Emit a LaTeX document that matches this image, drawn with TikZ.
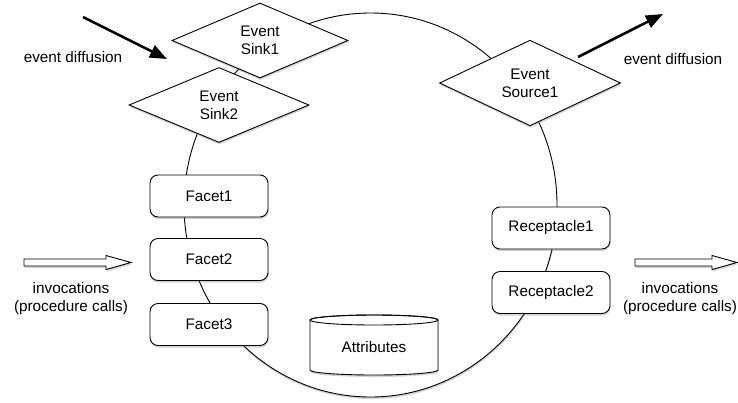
\documentclass[tikz,border=0pt]{standalone}
\usepackage{fontspec}
\setmainfont{Liberation Sans}
\usetikzlibrary{shapes.geometric,arrows.meta,shadows}
\begin{document}
\begin{tikzpicture}[x=1pt,y=-1pt,
  font=\fontsize{15.3}{18}\selectfont,
  shad/.style={drop shadow={shadow xshift=0.5pt,shadow yshift=-2pt,opacity=0.35}},
  evt/.style={diamond,draw,line width=0.9pt,fill=white,inner sep=0pt,align=center,shad},
  port/.style={rectangle,draw,line width=0.9pt,fill=white,rounded corners=8pt,minimum width=118pt,minimum height=42pt,inner sep=0pt,shad},
  hollow/.style={draw,line width=0.9pt,fill=white,shad},
  flow/.style={line width=2.6pt,-{Triangle[length=17pt,width=13pt]}},
  lbl/.style={align=center,inner sep=0pt}]
\useasboundingbox (0,0) rectangle (738,402);
% component body
\draw[line width=0.9pt,fill=white,shad] (370.5,205) ellipse[x radius=186.5,y radius=192];
% attributes cylinder
\draw[line width=0.9pt,fill=white,shad] (310,320) -- (310,370) arc[start angle=180,end angle=0,x radius=64,y radius=5] -- (438,320) arc[start angle=0,end angle=-180,x radius=64,y radius=5] -- cycle;
\draw[line width=0.9pt] (374,320) ellipse[x radius=64,y radius=5];
\node[lbl] (attr) at (374,347) {Attributes};
% event ports
\node[evt,minimum width=180pt,minimum height=75pt] (sink2) at (219,105) {Event\\Sink2};
\node[evt,minimum width=176pt,minimum height=75pt] (sink1) at (260,40.5) {Event\\Sink1};
\node[evt,minimum width=181pt,minimum height=73pt] (src1) at (530,83) {Event\\Source1};
% facets
\node[port] (f1) at (209,196) {Facet1};
\node[port] (f2) at (209,259.5) {Facet2};
\node[port] (f3) at (209,324.5) {Facet3};
% receptacles
\node[port] (r1) at (551,228) {Receptacle1};
\node[port] (r2) at (551,292.5) {Receptacle2};
% event diffusion arrows
\coordinate (ein) at (83,17);
\coordinate (eintip) at (167,59);
\draw[flow] (ein) -- (eintip);
\node[lbl] (edl) at (73,57) {event diffusion};
\coordinate (eout) at (578,57);
\coordinate (eouttip) at (663,14);
\draw[flow] (eout) -- (eouttip);
\node[lbl] (edr) at (673,59) {event diffusion};
% invocation arrows
\path[hollow] (24,259) -- (106,259) -- (106,255.5) -- (131,262.5) -- (106,269.5) -- (106,266) -- (24,266) -- cycle;
\node[lbl] (invl) at (71,299) {invocations\\(procedure calls)};
\path[hollow] (635,259) -- (712,259) -- (712,255.5) -- (737,262.5) -- (712,269.5) -- (712,266) -- (635,266) -- cycle;
\node[lbl] (invr) at (680,299) {invocations\\(procedure calls)};
\end{tikzpicture}
\end{document}
